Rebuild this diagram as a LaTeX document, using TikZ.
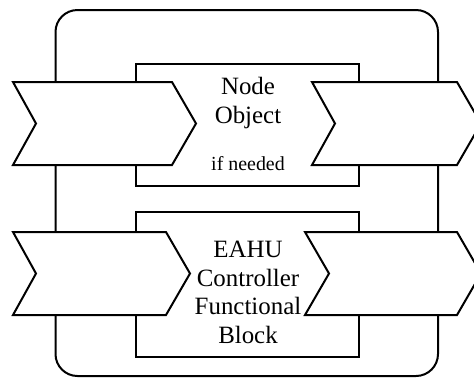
\documentclass[tikz,border=0pt]{standalone}
\usepackage{fontspec}
\setmainfont{Liberation Serif}
\begin{document}
\begin{tikzpicture}[x=1bp,y=-1bp,
  edge/.style={line width=2bp,draw=black,line join=miter},
  box/.style={edge,fill=white},
  lbl/.style={align=center,inner sep=0pt,font=\fontsize{25}{28.8}\selectfont},
  small/.style={inner sep=0pt,font=\fontsize{20}{24}\selectfont}]
\useasboundingbox (0,0) rectangle (474,378);
\begin{scope}
\clip (0,0) rectangle (474,378);
% outer rounded frame
\draw[edge,rounded corners=22bp] (55.5,10) rectangle (438,376);
% inner boxes
\draw[box] (136,64) rectangle (359,186);
\draw[box] (136,212) rectangle (359,357);
% top chevrons
\draw[box] (13,82) -- (172,82) -- (196,123.5) -- (172,165) -- (13,165) -- (36,123.5) -- cycle;
\draw[box] (312,82) -- (457,82) -- (481,123.5) -- (457,165) -- (312,165) -- (335,123.5) -- cycle;
% bottom chevrons
\draw[box] (13,232) -- (166,232) -- (190,273.5) -- (166,315) -- (13,315) -- (36,273.5) -- cycle;
\draw[box] (305,232) -- (457,232) -- (481,273.5) -- (457,315) -- (305,315) -- (329,273.5) -- cycle;
\end{scope}
\node[lbl] (node) at (248,103) {Node\\Object};
\node[small] (ifn) at (248,164) {if needed};
\node[lbl] (eahu) at (248,292.5) {EAHU\\Controller\\Functional\\Block};
\end{tikzpicture}
\end{document}
